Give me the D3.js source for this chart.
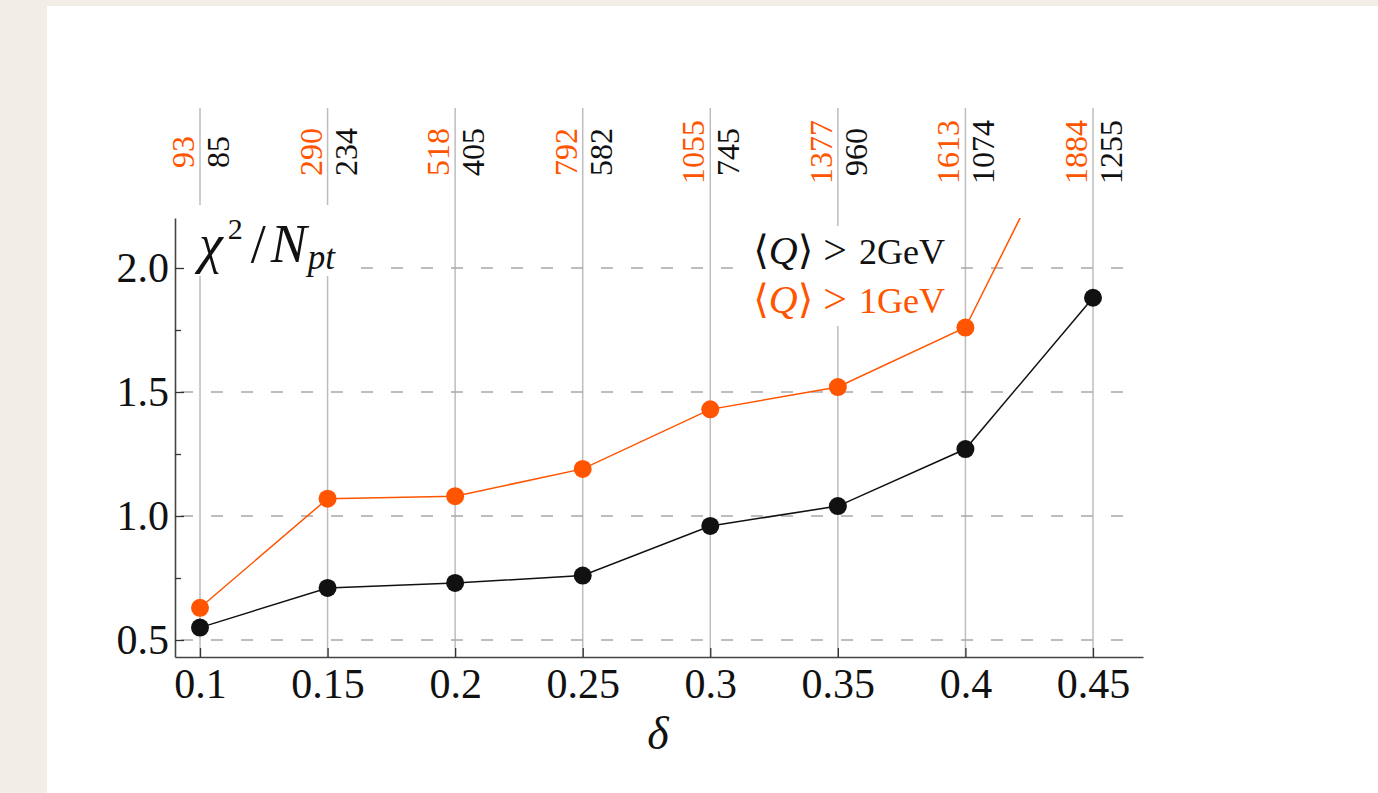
<!DOCTYPE html>
<html>
<head>
<meta charset="utf-8">
<script src="https://d3js.org/d3.v7.min.js"></script>
<style>
  html, body { margin: 0; padding: 0; background: #f2eee6; }
  svg { display: block; }
  text { font-family: "Liberation Serif", "DejaVu Serif", serif; }
</style>
</head>
<body>
<div id="vis"></div>
<script>
// values
var deltas = [0.1, 0.15, 0.2, 0.25, 0.3, 0.35, 0.4, 0.45];
var chi2Q2 = [0.55, 0.71, 0.73, 0.76, 0.96, 1.04, 1.27, 1.88]; // <Q> > 2 GeV
var chi2Q1 = [0.63, 1.07, 1.08, 1.19, 1.43, 1.52, 1.76, 2.79]; // <Q> > 1 GeV (last one off the top)
var nptQ1 = [93, 290, 518, 792, 1055, 1377, 1613, 1884];
var nptQ2 = [85, 234, 405, 582, 745, 960, 1074, 1255];
var yMajor = [0.5, 1.0, 1.5, 2.0];
var yMinor = [0.75, 1.25, 1.75];

var orange = '#ff5500';
var black = '#111111';
var serif = '"Liberation Serif", "DejaVu Serif", serif';

// size of the page and the plot box
var width = 1378, height = 793;
var plot = { left: 175, right: 1143, top: 218, bottom: 657 };

var x = d3.scaleLinear().domain([0.0902, 0.4696]).range([plot.left, plot.right]);
var y = d3.scaleLinear().domain([0.4315, 2.2016]).range([plot.bottom, plot.top]);

var svg = d3.select('#vis').append('svg')
  .attr('width', width)
  .attr('height', height);

// white sheet on the paper background
svg.append('rect')
  .attr('x', 47).attr('y', 6)
  .attr('width', width - 47).attr('height', height - 6)
  .attr('fill', '#ffffff');

svg.append('clipPath').attr('id', 'clip')
  .append('rect')
  .attr('x', plot.left).attr('y', plot.top)
  .attr('width', plot.right - plot.left)
  .attr('height', plot.bottom - plot.top);

// vertical grid lines, running up into the N_pt labels
svg.append('g').selectAll('line')
  .data(deltas).enter().append('line')
  .attr('x1', function (d) { return x(d); })
  .attr('x2', function (d) { return x(d); })
  .attr('y1', 108)
  .attr('y2', plot.bottom)
  .attr('stroke', '#bdbdbd')
  .attr('stroke-width', 1.5);

// dashed horizontal lines
svg.append('g').selectAll('line')
  .data(yMajor).enter().append('line')
  .attr('x1', plot.left + 6)
  .attr('x2', 1126)
  .attr('y1', function (d) { return y(d); })
  .attr('y2', function (d) { return y(d); })
  .attr('stroke', '#a8a8a8')
  .attr('stroke-width', 1.5)
  .attr('stroke-dasharray', '12,18');

// N_pt labels on top
var nptLabels = svg.append('g')
  .attr('font-family', serif)
  .attr('font-size', 32);
nptLabels.selectAll('text.q1')
  .data(deltas).enter().append('text')
  .attr('class', 'q1')
  .attr('transform', function (d) { return 'translate(' + (x(d) - 6) + ',152) rotate(-90)'; })
  .attr('text-anchor', 'middle')
  .style('font-family', serif)
  .attr('fill', orange)
  .text(function (d, i) { return nptQ1[i]; });
nptLabels.selectAll('text.q2')
  .data(deltas).enter().append('text')
  .attr('class', 'q2')
  .attr('transform', function (d) { return 'translate(' + (x(d) + 29) + ',152) rotate(-90)'; })
  .attr('text-anchor', 'middle')
  .style('font-family', serif)
  .attr('fill', black)
  .text(function (d, i) { return nptQ2[i]; });

// white boxes behind the y label and the legend
svg.append('rect')
  .attr('x', 180).attr('y', 205).attr('width', 172).attr('height', 71)
  .attr('fill', '#ffffff');
svg.append('rect')
  .attr('x', 748).attr('y', 226).attr('width', 200).attr('height', 100)
  .attr('fill', '#ffffff');

// axes
var xAxis = d3.axisBottom(x).tickValues(deltas).tickSizeInner(-9).tickSizeOuter(0).tickPadding(11)
  .tickFormat(function (d) { return String(+d.toFixed(2)); });
var gx = svg.append('g').attr('transform', 'translate(0,' + plot.bottom + ')').call(xAxis);

var yAxis = d3.axisLeft(y).tickValues(yMajor).tickSizeInner(-9).tickSizeOuter(0).tickPadding(6)
  .tickFormat(d3.format('.1f'));
var gy = svg.append('g').attr('transform', 'translate(' + plot.left + ',0)').call(yAxis);

svg.append('g').attr('transform', 'translate(' + plot.left + ',0)')
  .call(d3.axisLeft(y).tickValues(yMinor).tickSizeInner(-6).tickSizeOuter(0).tickFormat(''))
  .select('.domain').remove();

svg.selectAll('.domain').attr('stroke', '#444').attr('stroke-width', 1.6);
svg.selectAll('.tick line').attr('stroke', '#333').attr('stroke-width', 1.3);
gx.selectAll('.tick text').attr('font-size', 42).attr('fill', black)
  .attr('font-family', serif);
gy.selectAll('.tick text').attr('font-size', 42).attr('fill', black)
  .attr('font-family', serif);

// series lines and points
var line = d3.line()
  .x(function (d) { return x(d[0]); })
  .y(function (d) { return y(d[1]); });

var series = [
  { values: d3.zip(deltas, chi2Q1), color: orange },
  { values: d3.zip(deltas, chi2Q2), color: black }
];

var marks = svg.append('g').attr('clip-path', 'url(#clip)');
series.forEach(function (s) {
  marks.append('path')
    .attr('d', line(s.values))
    .attr('fill', 'none')
    .attr('stroke', s.color)
    .attr('stroke-width', 1.5);
  marks.selectAll(null)
    .data(s.values).enter().append('circle')
    .attr('cx', function (d) { return x(d[0]); })
    .attr('cy', function (d) { return y(d[1]); })
    .attr('r', 9)
    .attr('fill', s.color);
});

// y label
var ylab = svg.append('text')
  .attr('x', 199).attr('y', 262)
  .attr('font-size', 54)
  .attr('font-family', serif)
  .attr('fill', black);
ylab.append('tspan').attr('font-style', 'italic').text('χ');
ylab.append('tspan').attr('font-size', 30).attr('dy', -23).attr('dx', 5).text('2');
ylab.append('tspan').attr('dy', 23).attr('dx', 8).text('/');
ylab.append('tspan').attr('font-style', 'italic').attr('dx', 5).text('N');
ylab.append('tspan').attr('font-style', 'italic').attr('font-size', 35).attr('dy', 7).attr('dx', 1).text('pt');

// x label
svg.append('text')
  .attr('x', 658).attr('y', 749)
  .attr('text-anchor', 'middle')
  .attr('font-size', 46)
  .attr('font-style', 'italic')
  .attr('font-family', serif)
  .attr('fill', black)
  .text('δ');

// legend
var legend = [
  { label: '2GeV', color: black, y: 264 },
  { label: '1GeV', color: orange, y: 313 }
];
legend.forEach(function (l) {
  var t = svg.append('text')
    .attr('x', 945).attr('y', l.y)
    .attr('text-anchor', 'end')
    .attr('font-size', 36)
    .attr('font-family', serif)
    .attr('fill', l.color);
  t.append('tspan').attr('font-family', '"DejaVu Serif", serif').attr('font-size', 40).attr('font-weight', 300).text('⟨');
  t.append('tspan').attr('font-style', 'italic').attr('font-size', 40).text('Q');
  t.append('tspan').attr('font-family', '"DejaVu Serif", serif').attr('font-size', 40).attr('font-weight', 300).text('⟩');
  t.append('tspan').attr('dx', 10).attr('font-size', 42).text('>');
  t.append('tspan').attr('dx', 12).text(l.label);
});
</script>
</body>
</html>
